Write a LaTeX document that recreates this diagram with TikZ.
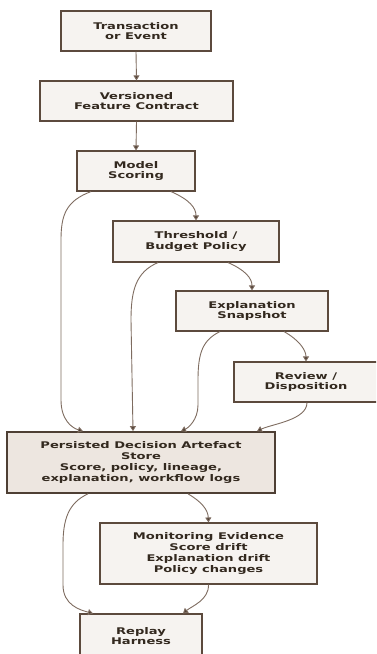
\documentclass[tikz,border=0pt]{standalone}
\usepackage{fontspec}
\setmainfont{DejaVu Sans}[FakeStretch=1.42, BoldFeatures={FakeStretch=1.42}]
\usetikzlibrary{arrows.meta,calc}
\definecolor{boxfill}{HTML}{F6F3F0}
\definecolor{storefill}{HTML}{EDE6E0}
\definecolor{boxline}{HTML}{5C4A3D}
\definecolor{edgeline}{HTML}{7E6C60}
\definecolor{txt}{HTML}{33291F}
\tikzset{
  stage/.style={draw=boxline, line width=1.1pt, fill=boxfill, inner sep=0pt,
    align=center, text=txt, font=\fontsize{9.2}{10.7}\selectfont\bfseries},
  store/.style={stage, fill=storefill, line width=1.7pt, draw=boxline!85!black},
  edge/.style={draw=edgeline, line width=0.9pt,
    -{Triangle[length=5pt,width=6pt,fill=boxline!85!black]}},
}
\begin{document}
\begin{tikzpicture}[x=1pt,y=-1pt]
\useasboundingbox (0,0) rectangle (376,654);
\clip (0,0) rectangle (376,654);
\fill[white] (0,0) rectangle (376,654);

% pipeline stages
\node[stage, minimum width=150, minimum height=40] (tx) at (136,31) {Transaction\\or Event};
\node[stage, minimum width=193, minimum height=40] (vf) at (136.5,101) {Versioned\\Feature Contract};
\node[stage, minimum width=118, minimum height=40] (ms) at (136,171) {Model\\Scoring};
\node[stage, minimum width=166, minimum height=41] (th) at (196,241.5) {Threshold /\\Budget Policy};
\node[stage, minimum width=152, minimum height=40] (ex) at (252,311) {Explanation\\Snapshot};
\node[stage, minimum width=144, minimum height=40] (rv) at (306,382) {Review /\\Disposition};
\node[store, minimum width=268, minimum height=61] (pd) at (141,462.5)
  {Persisted Decision Artefact\\Store\\Score, policy, lineage,\\explanation, workflow logs};
\node[stage, minimum width=217, minimum height=61] (mo) at (208.5,553.5)
  {Monitoring Evidence\\Score drift\\Explanation drift\\Policy changes};
\node[stage, minimum width=122, minimum height=44] (rp) at (141,636) {Replay\\Harness};

% main chain
\draw[edge] (tx.south) -- (vf.north);
\draw[edge] (vf.south) -- (ms.north);
\draw[edge] ($(ms.south)+(35,0)$) .. controls (190,200) and (196,208) .. (th.north);
\draw[edge] ($(th.south)+(32,0)$) .. controls (245,270) and (252,278) .. (ex.north);
\draw[edge] ($(ex.south)+(32,0)$) .. controls (299,340) and (306,350) .. (rv.north);

% everything lands in the artefact store
\draw[edge] ($(ms.south)+(-45,0)$) .. controls (66,201) and (61,215) .. (61,240)
  -- (61,400) .. controls (61,420) and (72,428) .. ($(pd.north)+(-58,0)$);
\draw[edge] ($(th.south)+(-38,0)$) .. controls (136,272) and (131,290) .. (131,320)
  -- ($(pd.north)+(-8,0)$);
\draw[edge] ($(ex.south)+(-32,0)$) .. controls (203,340) and (198,352) .. (198,380)
  -- (198,405) .. controls (198,420) and (188,428) .. ($(pd.north)+(40,0)$);
\draw[edge] ($(rv.south)+(1,0)$) .. controls (307,420) and (272,424) .. ($(pd.north)+(116,0)$);

% downstream of the store
\draw[edge] ($(pd.south)+(47,0)$) .. controls (202,502) and (208,510) .. (mo.north);
\draw[edge] ($(pd.south)+(-53,0)$) .. controls (68,503) and (63,520) .. (63,545)
  -- (63,585) .. controls (63,605) and (80,610) .. ($(rp.north)+(-48,0)$);
\draw[edge] (mo.south) .. controls (209,600) and (192,606) .. ($(rp.north)+(42,0)$);
\end{tikzpicture}
\end{document}
